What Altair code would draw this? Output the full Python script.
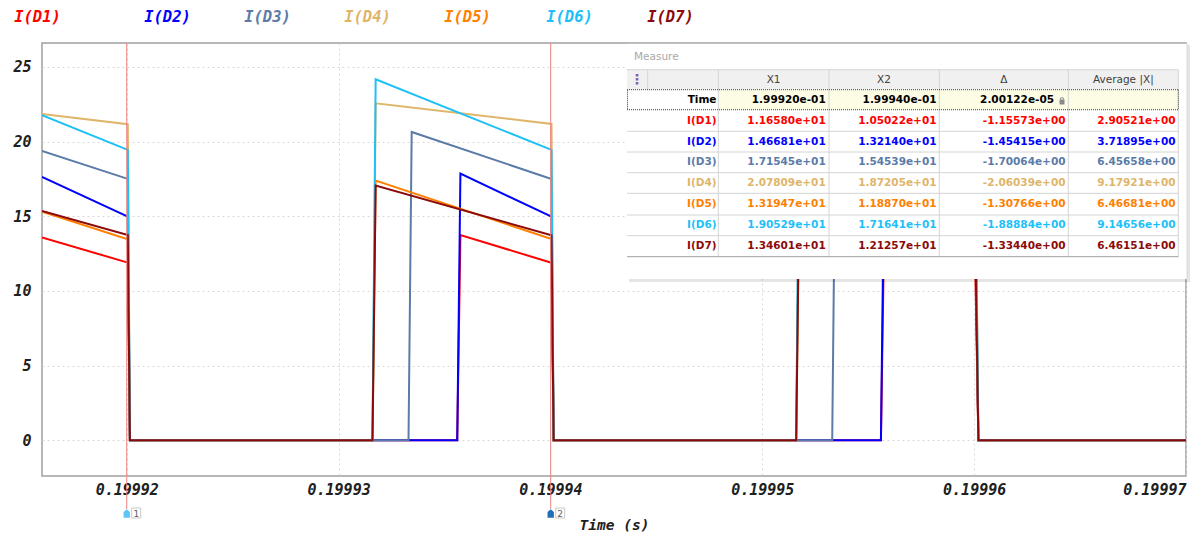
import altair as alt
import pandas as pd

# ---------------- data ----------------
series = ["I(D1)", "I(D2)", "I(D3)", "I(D4)", "I(D5)", "I(D6)", "I(D7)"]
colors = ["#ff0000", "#0000ff", "#5b7ba8", "#dfb56a", "#ff8000", "#1ec0f8", "#8c0a0a"]

t_left = 0.199916
t_right = 0.19997
t_fall_start = [0.19992005, 0.19994005, 0.19996005]
t_fall_end = [0.19992015, 0.19994015, 0.19996020]
t_rise_start_p2 = [0.1999356, 0.1999356, 0.1999333, 0.1999316, 0.1999316, 0.1999316, 0.1999316]
t_rise_end_p2 = [0.19993575, 0.19993575, 0.19993345, 0.19993175, 0.19993175, 0.19993175, 0.19993175]
t_rise_start_p3 = [0.1999556, 0.1999556, 0.1999533, 0.1999516, 0.1999516, 0.1999516, 0.1999516]
t_rise_end_p3 = [0.19995575, 0.19995575, 0.19995345, 0.19995175, 0.19995175, 0.19995175, 0.19995175]

v_left = [13.58, 17.63, 19.37, 21.85, 15.30, 21.76, 15.35]
v_fall1 = [11.89, 14.97, 17.50, 21.16, 13.45, 19.44, 13.74]
v_peak2 = [13.74, 17.85, 20.64, 22.56, 17.38, 24.17, 17.05]
v_fall2 = [11.88, 14.97, 17.49, 21.18, 13.47, 19.44, 13.72]
# third pulse is mostly hidden under the Measure panel (estimated)
v_peak3 = [13.74, 17.85, 20.64, 22.56, 17.38, 24.17, 17.05]
v_fall3 = [11.88, 14.97, 17.49, 21.18, 13.47, 19.44, 13.72]

x_ticks = [0.19992, 0.19993, 0.19994, 0.19995, 0.19996, 0.19997]
y_ticks = [0, 5, 10, 15, 20, 25]
cursor_times = [0.19992, 0.1999400122]
cursor_names = ["1", "2"]
cursor_colors = ["#5ec4f4", "#1f6fb8"]

# Measure table
row_names = ["Time"] + series
row_colors = ["#000000"] + colors
x1_text = ["1.99920e-01", "1.16580e+01", "1.46681e+01", "1.71545e+01", "2.07809e+01",
           "1.31947e+01", "1.90529e+01", "1.34601e+01"]
x2_text = ["1.99940e-01", "1.05022e+01", "1.32140e+01", "1.54539e+01", "1.87205e+01",
           "1.18870e+01", "1.71641e+01", "1.21257e+01"]
delta_text = ["2.00122e-05", "-1.15573e+00", "-1.45415e+00", "-1.70064e+00", "-2.06039e+00",
              "-1.30766e+00", "-1.88884e+00", "-1.33440e+00"]
avg_text = ["", "2.90521e+00", "3.71895e+00", "6.45658e+00", "9.17921e+00",
            "6.46681e+00", "9.14656e+00", "6.46151e+00"]
header_text = ["X1", "X2", "\u0394", "Average |X|"]

# ---------------- layout (pixels, plot coordinates) ----------------
W, H = 1144, 433
MONO = "DejaVu Sans Mono"
SANS = "DejaVu Sans"

X = alt.X("t:Q", scale=alt.Scale(domain=[t_left, t_right], nice=False, zero=False),
          axis=alt.Axis(values=x_ticks, format=".5f", title="Time (s)", labelFlush=True,
                        labelFont=MONO, labelFontStyle="italic", labelFontWeight="bold",
                        labelFontSize=15, labelColor="#202020", labelPadding=6,
                        ticks=False, domain=False, grid=True, gridColor="#d8d8d8",
                        gridDash=[2, 3], titleFont=MONO, titleFontStyle="italic",
                        titleFontWeight="bold", titleFontSize=14.5, titleColor="#202020",
                        titleY=49, titleBaseline="middle", titleAlign="center"))
Y = alt.Y("v:Q", scale=alt.Scale(domain=[-2.4, 26.6], nice=False, zero=False),
          axis=alt.Axis(values=y_ticks, title=None, labelFont=MONO, labelFontStyle="italic",
                        labelFontWeight="bold", labelFontSize=15, labelColor="#202020",
                        labelPadding=11, ticks=False, domain=False, grid=True,
                        gridColor="#d8d8d8", gridDash=[2, 3]))

layers = []
for i, s in enumerate(series):
    ts = [t_left, t_fall_start[0], t_fall_end[0], t_rise_start_p2[i], t_rise_end_p2[i],
          t_fall_start[1], t_fall_end[1], t_rise_start_p3[i], t_rise_end_p3[i],
          t_fall_start[2], t_fall_end[2], t_right]
    vs = [v_left[i], v_fall1[i], 0, 0, v_peak2[i], v_fall2[i], 0, 0, v_peak3[i], v_fall3[i], 0, 0]
    df = pd.DataFrame({"t": ts, "v": vs, "s": s})
    layers.append(alt.Chart(df).mark_line(color=colors[i], strokeWidth=2, clip=True)
                  .encode(x=X, y=Y))

# cursors
cur_df = pd.DataFrame({"t": cursor_times, "name": cursor_names, "c": cursor_colors})
layers.append(alt.Chart(cur_df).mark_rule(color="#ee8080", strokeWidth=1)
              .encode(x=alt.X("t:Q"), y=alt.value(0), y2=alt.value(466)))
layers.append(alt.Chart(cur_df).mark_point(
    shape="M-0.75,1 L-0.75,-0.35 L0,-1 L0.75,-0.35 L0.75,1 Z", size=72, filled=True, opacity=1)
    .encode(x=alt.X("t:Q"), y=alt.value(470.5), color=alt.Color("c:N", scale=None)))
layers.append(alt.Chart(cur_df).mark_rect(xOffset=5, x2Offset=14, fill="white",
                                          stroke="#c8c8c8", strokeWidth=1)
              .encode(x=alt.X("t:Q"), x2=alt.X2("t"), y=alt.value(465), y2=alt.value(475)))
layers.append(alt.Chart(cur_df).mark_text(dx=9.5, fontSize=9, font=SANS, color="#606060",
                                          baseline="middle", align="center")
              .encode(x=alt.X("t:Q"), y=alt.value(470.5), text="name:N"))

# top legend texts
leg_df = pd.DataFrame({"s": series, "c": colors,
                       "px": [-4.5, 125.5, 225.5, 325.5, 425.5, 527.5, 628.5]})
layers.append(alt.Chart(leg_df).mark_text(font=MONO, fontStyle="italic", fontWeight="bold",
                                          fontSize=15.5, baseline="middle", align="center")
              .encode(x=alt.X("px:Q", scale=None), y=alt.value(-26),
                      color=alt.Color("c:N", scale=None), text="s:N"))

# ---- Measure panel ----
rect_df = pd.DataFrame({
    "x": [587, 585, 585, 676.3],
    "x2": [1148, 1145, 1136.3, 1136.3],
    "y": [2, 0, 26.7, 46.7],
    "y2": [239, 236, 46.7, 66.7],
    "f": ["#000000", "#ffffff", "#f0f0f0", "#fdfde6"],
    "o": [0.10, 1, 1, 1],
})
layers.append(alt.Chart(rect_df).mark_rect().encode(
    x=alt.X("x:Q", scale=None), x2="x2:Q", y=alt.Y("y:Q", scale=None), y2="y2:Q",
    fill=alt.Fill("f:N", scale=None), opacity=alt.Opacity("o:Q", scale=None)))

hl_y = [26.7, 88.3, 109, 129.7, 150.3, 172, 192.7]
vl_x = [676.3, 787, 897.3, 1026.3, 1136.3]
ln_rows = []
for yy in hl_y:
    ln_rows.append({"x": 585, "x2": 1136.3, "y": yy, "y2": yy, "c": "#d4d4d4"})
for xx in vl_x:
    ln_rows.append({"x": xx, "x2": xx, "y": 26.7, "y2": 213.7, "c": "#d4d4d4"})
ln_rows.append({"x": 605.7, "x2": 605.7, "y": 26.7, "y2": 46.7, "c": "#d4d4d4"})
ln_rows.append({"x": 585, "x2": 1136.3, "y": 213.7, "y2": 213.7, "c": "#a0a0a0"})
ln_rows.append({"x": 585, "x2": 1145, "y": 0.5, "y2": 0.5, "c": "#c0c0c0"})
ln_rows.append({"x": 1145, "x2": 1145, "y": 0, "y2": 236, "c": "#d8d8d8"})
ln_df = pd.DataFrame(ln_rows)
layers.append(alt.Chart(ln_df).mark_rule(strokeWidth=1).encode(
    x=alt.X("x:Q", scale=None), x2="x2:Q", y=alt.Y("y:Q", scale=None), y2="y2:Q",
    color=alt.Color("c:N", scale=None)))

dot_df = pd.DataFrame({"x": [585, 585, 585.5, 1136.3], "x2": [1136.3, 1136.3, 585.5, 1136.3],
                       "y": [46.7, 66.7, 46.7, 46.7], "y2": [46.7, 66.7, 66.7, 66.7]})
layers.append(alt.Chart(dot_df).mark_rule(strokeWidth=1, color="#404040", strokeDash=[1, 1])
              .encode(x=alt.X("x:Q", scale=None), x2="x2:Q",
                      y=alt.Y("y:Q", scale=None), y2="y2:Q"))

# lock icon
lock_df = pd.DataFrame({"x": [1017.5], "x2": [1022.5], "y": [56.5], "y2": [61.5]})
layers.append(alt.Chart(lock_df).mark_rect(fill="#8a8a8a").encode(
    x=alt.X("x:Q", scale=None), x2="x2:Q", y=alt.Y("y:Q", scale=None), y2="y2:Q"))
layers.append(alt.Chart(lock_df).mark_arc(radius=2.2, radius2=1.2, theta=4.7124,
                                          theta2=7.8540, fill="#8a8a8a")
              .encode(x=alt.value(1020), y=alt.value(56.5)))

# header texts
hdr_df = pd.DataFrame({"txt": header_text, "px": [731.6, 842, 961.8, 1081.3]})
layers.append(alt.Chart(hdr_df).mark_text(font=SANS, fontSize=10.5, color="#404040",
                                          baseline="middle", align="center")
              .encode(x=alt.X("px:Q", scale=None), y=alt.value(36.7), text="txt:N"))
layers.append(alt.Chart(pd.DataFrame({"txt": ["Measure"]})).mark_text(
    font=SANS, fontSize=10.5, color="#a8a8a8", baseline="middle", align="left")
    .encode(x=alt.value(592), y=alt.value(14), text="txt:N"))
layers.append(alt.Chart(pd.DataFrame({"txt": ["\u22ee"]})).mark_text(
    font=SANS, fontSize=14, fontWeight="bold", color="#8a5aa8", baseline="middle", align="center")
    .encode(x=alt.value(595), y=alt.value(36.7), text="txt:N"))

row_y = [56.7, 77.5, 98.7, 119.4, 140, 161.2, 182.3, 203.2]
cells = []
for r in range(len(row_names)):
    cols = [(row_names[r], 674.5), (x1_text[r], 783.7), (x2_text[r], 894.5),
            (delta_text[r], 1012 if r == 0 else 1023.5), (avg_text[r], 1133.5)]
    for txt, px in cols:
        cells.append({"txt": txt, "px": px, "py": row_y[r], "c": row_colors[r]})
cell_df = pd.DataFrame(cells)
layers.append(alt.Chart(cell_df).mark_text(font=SANS, fontWeight="bold", fontSize=10.5,
                                           baseline="middle", align="right")
              .encode(x=alt.X("px:Q", scale=None), y=alt.Y("py:Q", scale=None),
                      color=alt.Color("c:N", scale=None), text="txt:N"))

chart = alt.layer(*layers).properties(
    width=W, height=H,
    autosize=alt.AutoSizeParams(type="none"),
    padding={"left": 42, "top": 43, "right": 7, "bottom": 59},
    background="white",
).configure_view(stroke="#a0a0a0", strokeWidth=1.5)

chart.save("out.html", embed_options={"renderer": "svg", "actions": False})
